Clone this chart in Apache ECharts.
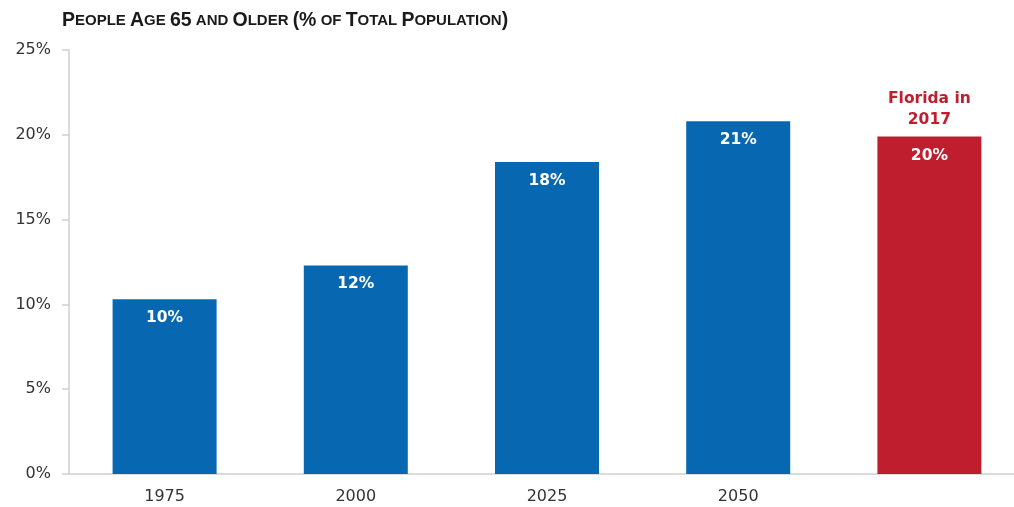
<!DOCTYPE html>
<html>
<head>
<meta charset="utf-8">
<script src="https://cdn.jsdelivr.net/npm/echarts@6/dist/echarts.min.js"></script>
<style>
  html, body { margin: 0; padding: 0; background: #fff; }
  #chart { width: 1014px; height: 507px; }
</style>
</head>
<body>
<div id="chart"></div>
<script>
// Share of population aged 65+, by year, plus Florida in 2017
const categories = ['1975', '2000', '2025', '2050', 'Florida 2017'];
const tickLabels = ['1975', '2000', '2025', '2050', ''];
const shareValues = [10.3, 12.3, 18.4, 20.8, 19.9];
const highlightIndex = 4;
const highlightCaption = 'Florida in\n2017';
const yTicks = [0, 5, 10, 15, 20, 25];

const BLUE = '#0767b1';
const RED = '#bf1e2e';
const BODY_FONT = 'DejaVu Sans';

const chart = echarts.init(document.getElementById('chart'), null, { renderer: 'canvas' });

// Small-caps title built from rich text runs
function smallCaps(text) {
  let out = '';
  for (const word of text.split(' ')) {
    if (out) out += '{s| }';
    let run = '';
    let runUpper = null;
    for (const ch of word) {
      const isUpper = ch === ch.toUpperCase();
      if (runUpper !== null && isUpper !== runUpper) {
        out += '{' + (runUpper ? 'b' : 's') + '|' + run + '}';
        run = '';
      }
      run += isUpper ? ch : ch.toUpperCase();
      runUpper = isUpper;
    }
    if (run) out += '{' + (runUpper ? 'b' : 's') + '|' + run + '}';
  }
  return out;
}

const titleText = 'People Age 65 and Older (% of Total Population)';

chart.setOption({
  animation: false,
  title: {
    text: smallCaps(titleText),
    left: 57,
    top: 6,
    textStyle: {
      rich: {
        b: { fontFamily: 'Liberation Sans', fontWeight: 'bold', fontSize: 19.5, color: '#1a1a1a' },
        s: { fontFamily: 'Liberation Sans', fontWeight: 'bold', fontSize: 15, color: '#1a1a1a' }
      }
    }
  },
  grid: { left: 69, right: -11, top: 50, bottom: 33, outerBoundsMode: 'none' },
  xAxis: {
    type: 'category',
    data: categories,
    axisLine: { lineStyle: { color: '#cfcfcf', width: 1.5 } },
    axisTick: { show: false },
    axisLabel: {
      formatter: (v, i) => tickLabels[i],
      color: '#333', fontSize: 16, fontFamily: BODY_FONT, margin: 15
    }
  },
  yAxis: {
    type: 'value',
    min: 0, max: 25, interval: 5,
    axisLine: { show: true, lineStyle: { color: '#cfcfcf', width: 1.5 } },
    axisTick: { show: true, inside: false, length: 7, lineStyle: { color: '#cfcfcf', width: 1.5 } },
    splitLine: { show: false },
    axisLabel: {
      formatter: v => (yTicks.includes(v) ? v + '%' : ''),
      color: '#333', fontSize: 16, fontFamily: BODY_FONT, margin: 18
    }
  },
  series: [
    {
      type: 'bar',
      barWidth: 104,
      data: shareValues.map((v, i) => ({
        value: v,
        itemStyle: { color: i === highlightIndex ? RED : BLUE }
      })),
      label: {
        show: true,
        position: 'insideTop',
        distance: 11,
        formatter: p => Math.round(p.value) + '%',
        color: '#fff',
        fontSize: 15.5,
        fontWeight: 'bold',
        fontFamily: BODY_FONT
      }
    },
    {
      // transparent overlay carrying the caption above the highlighted bar
      type: 'bar',
      barWidth: 104,
      barGap: '-100%',
      silent: true,
      itemStyle: { color: 'rgba(0,0,0,0)' },
      data: shareValues.map((v, i) => ({
        value: v,
        label: { show: i === highlightIndex }
      })),
      label: {
        show: false,
        position: 'top',
        distance: 6,
        formatter: () => highlightCaption,
        color: RED,
        fontSize: 15.5,
        lineHeight: 21,
        fontWeight: 'bold',
        fontFamily: BODY_FONT,
        align: 'center'
      }
    }
  ]
});
</script>
</body>
</html>
